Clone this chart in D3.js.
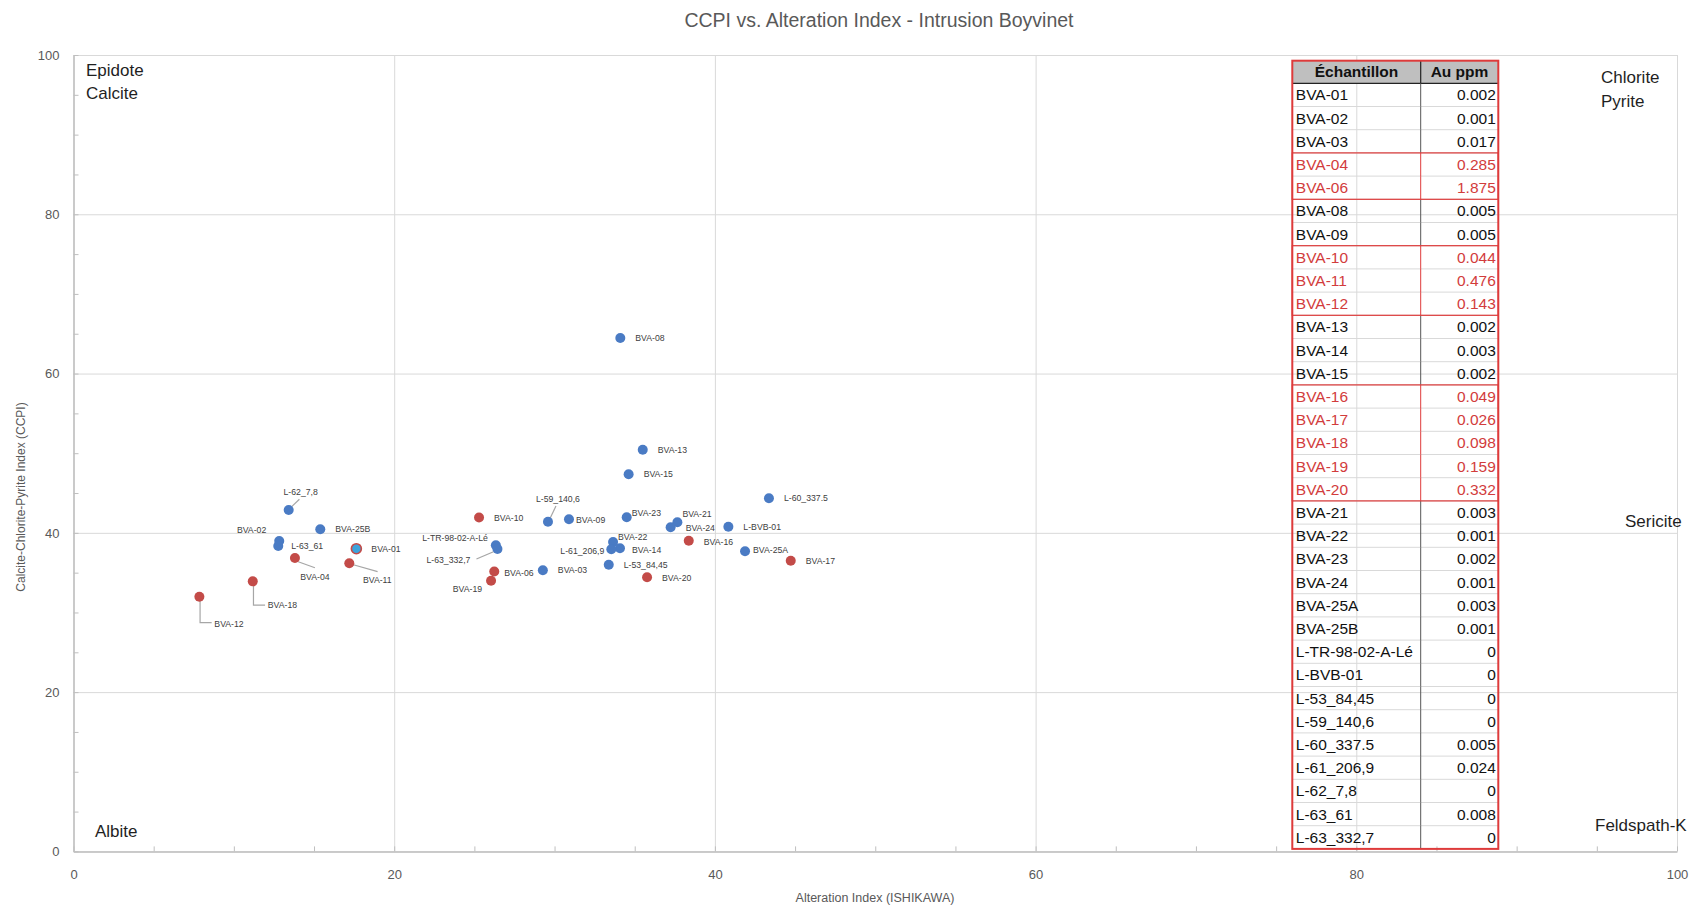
<!DOCTYPE html>
<html><head><meta charset="utf-8">
<script src="https://cdn.jsdelivr.net/npm/d3@7"></script>
<style>
body{margin:0;background:#fff;}
svg{display:block;font-family:'Liberation Sans',Arial,sans-serif;}
</style>
</head><body>
<svg id="chart" width="1694" height="907"></svg>
<script>
// ---------- DATA ----------
const sampleNames = ["BVA-01","BVA-02","BVA-03","BVA-04","BVA-06","BVA-08","BVA-09","BVA-10","BVA-11","BVA-12",
  "BVA-13","BVA-14","BVA-15","BVA-16","BVA-17","BVA-18","BVA-19","BVA-20","BVA-21","BVA-22","BVA-23","BVA-24",
  "BVA-25A","BVA-25B","L-TR-98-02-A-Lé","L-BVB-01","L-53_84,45","L-59_140,6","L-60_337.5","L-61_206,9",
  "L-62_7,8","L-63_61","L-63_332,7"];
const alterationIndex = [17.64,12.83,29.27,13.81,26.24,34.10,30.90,25.29,17.20,7.85,
  35.50,34.08,34.62,38.37,44.73,11.18,26.04,35.77,37.66,33.65,34.50,37.24,
  41.88,15.39,26.34,40.84,33.38,29.59,43.37,33.54,
  13.42,12.77,26.44];
const ccpiValues = [38.01,38.98,35.31,36.84,35.15,64.46,41.70,41.93,36.18,31.98,
  50.44,38.06,47.36,39.01,36.50,33.91,33.98,34.42,41.32,38.85,41.95,40.70,
  37.68,40.44,38.45,40.77,36.00,41.40,44.34,37.93,
  42.87,38.35,37.97];

const tableSamples = ["BVA-01","BVA-02","BVA-03","BVA-04","BVA-06","BVA-08","BVA-09","BVA-10","BVA-11","BVA-12",
  "BVA-13","BVA-14","BVA-15","BVA-16","BVA-17","BVA-18","BVA-19","BVA-20","BVA-21","BVA-22","BVA-23","BVA-24",
  "BVA-25A","BVA-25B","L-TR-98-02-A-Lé","L-BVB-01","L-53_84,45","L-59_140,6","L-60_337.5","L-61_206,9",
  "L-62_7,8","L-63_61","L-63_332,7"];
const tableAu = [0.002,0.001,0.017,0.285,1.875,0.005,0.005,0.044,0.476,0.143,
  0.002,0.003,0.002,0.049,0.026,0.098,0.159,0.332,0.003,0.001,0.002,0.001,
  0.003,0.001,0,0,0,0,0.005,0.024,
  0,0.008,0];
const tableHeaders = ["Échantillon","Au ppm"];
const auThreshold = 0.025;

const xTicks = [0,20,40,60,80,100];
const yTicks = [0,20,40,60,80,100];
const chartTitle = "CCPI vs. Alteration Index - Intrusion Boyvinet";
const xTitle = "Alteration Index (ISHIKAWA)";
const yTitle = "Calcite-Chlorite-Pyrite Index (CCPI)";

// ---------- LAYOUT / STYLE ----------
const plot = {left:73.5, right:1677, top:55, bottom:851.4};
const blue = "#4a7bc4", red = "#c34b48", tRed = "#d23c3c", bRed = "#de3b3b";
const labelLayout = {
  "BVA-09":{dx:7,dy:1}, "BVA-23":{dx:5,dy:-4}, "BVA-21":{dx:5,dy:-8}, "BVA-24":{dx:15,dy:1},
  "BVA-16":{dx:15,dy:1}, "BVA-22":{dx:5,dy:-5}, "L-61_206,9":{dx:-7,dy:1.5,anchor:"end"},
  "BVA-14":{dx:12,dy:2}, "BVA-25A":{dx:8,dy:-1}, "BVA-06":{dx:10,dy:1},
  "BVA-19":{dx:-9,dy:8,anchor:"end"}, "L-TR-98-02-A-Lé":{dx:-8,dy:-7,anchor:"end"},
  "L-63_332,7":{dx:-27,dy:11,anchor:"end",leader:[[-21,10],[-4,2.7]]},
  "L-59_140,6":{dx:10,dy:-23,anchor:"middle",leader:[[8,-15.7],[1.3,-1.7]]},
  "BVA-02":{dx:-13,dy:-11,anchor:"end"}, "L-63_61":{dx:13,dy:0},
  "L-62_7,8":{dx:12,dy:-18,anchor:"middle",leader:[[3,-3.3],[10.7,-10.7]]},
  "BVA-04":{dx:20,dy:19,anchor:"middle",leader:[[3.3,3.7],[20,9.7]]},
  "BVA-11":{dx:28,dy:17,anchor:"middle",leader:[[2.3,1],[28.3,8.3]]},
  "BVA-18":{dx:15,dy:24,leader:[[0.7,3.7],[0.7,23.7],[12.3,23.7]]},
  "BVA-12":{dx:15,dy:27,leader:[[0.7,3.3],[0.7,26],[12.3,26]]},
  "BVA-20":{dx:15,dy:1}
};
const specialMarker = {"BVA-01":{fill:"#3da3dc",stroke:red}};

const svg = d3.select("#chart");
const x = d3.scaleLinear().domain([0,100]).range([plot.left, plot.right]);
const y = d3.scaleLinear().domain([0,100]).range([plot.bottom, plot.top]);

// gridlines
svg.append("g").attr("transform",`translate(0,${plot.bottom})`)
  .call(d3.axisBottom(x).tickValues(xTicks).tickSize(-(plot.bottom-plot.top)).tickFormat(""))
  .call(g=>{g.select(".domain").remove(); g.selectAll("line").attr("stroke","#d9d9d9");});
svg.append("g").attr("transform",`translate(${plot.left},0)`)
  .call(d3.axisLeft(y).tickValues(yTicks).tickSize(-(plot.right-plot.left)).tickFormat(""))
  .call(g=>{g.select(".domain").remove(); g.selectAll("line").attr("stroke","#d9d9d9");});

// minor ticks (inside)
svg.append("g").attr("transform",`translate(0,${plot.bottom})`)
  .call(d3.axisBottom(x).tickValues(d3.range(0,101,5)).tickSize(-5).tickFormat(""))
  .call(g=>{g.select(".domain").remove(); g.selectAll("line").attr("stroke","#bfbfbf");});
svg.append("g").attr("transform",`translate(${plot.left},0)`)
  .call(d3.axisLeft(y).tickValues(d3.range(0,101,5)).tickSize(-5).tickFormat(""))
  .call(g=>{g.select(".domain").remove(); g.selectAll("line").attr("stroke","#bfbfbf");});

// axes
const xAxis = svg.append("g").attr("transform",`translate(0,${plot.bottom})`)
  .call(d3.axisBottom(x).tickValues(xTicks).tickSize(0).tickPadding(0).tickFormat(d3.format("d")));
xAxis.select(".domain").attr("stroke","#bfbfbf").attr("stroke-width",1.5);
xAxis.selectAll("text").attr("y",23).attr("dy","0.35em").attr("font-size",13).attr("fill","#595959");
const yAxis = svg.append("g").attr("transform",`translate(${plot.left},0)`)
  .call(d3.axisLeft(y).tickValues(yTicks).tickSize(0).tickPadding(14).tickFormat(d3.format("d")));
yAxis.select(".domain").attr("stroke","#bfbfbf").attr("stroke-width",1.5);
yAxis.selectAll("text").attr("font-size",13).attr("fill","#595959");

// titles
svg.append("text").attr("x",879).attr("y",20).attr("dy","0.35em").attr("text-anchor","middle")
  .attr("font-size",19.5).attr("fill","#595959").text(chartTitle);
svg.append("text").attr("x",875).attr("y",898).attr("dy","0.35em").attr("text-anchor","middle")
  .attr("font-size",12.5).attr("fill","#595959").text(xTitle);
svg.append("text").attr("transform","translate(21,497) rotate(-90)").attr("dy","0.35em")
  .attr("text-anchor","middle").attr("font-size",12).attr("fill","#595959").text(yTitle);

// quadrant labels
const quad = [
  {t:"Epidote",x:86,y:70},{t:"Calcite",x:86,y:93},
  {t:"Chlorite",x:1601,y:77},{t:"Pyrite",x:1601,y:101},
  {t:"Sericite",x:1625,y:521},{t:"Albite",x:95,y:831},{t:"Feldspath-K",x:1595,y:825}];
svg.append("g").selectAll("text").data(quad).join("text")
  .attr("x",d=>d.x).attr("y",d=>d.y).attr("dy","0.35em").attr("font-size",17).attr("fill","#1f1f1f").text(d=>d.t);

// table
const tb = {left:1292.3, mid:1420.7, right:1498.3, top:60.7, head:22.6, row:23.2};
const tg = svg.append("g");
const auOf = name => tableAu[tableSamples.indexOf(name)];
const isHigh = i => tableAu[i] >= auThreshold;
const rowTop = i => tb.top + tb.head + i*tb.row;
tg.append("rect").attr("x",tb.left).attr("y",tb.top).attr("width",tb.right-tb.left).attr("height",tb.head)
  .attr("fill","#bfbfbf");
tg.append("line").attr("x1",tb.mid).attr("x2",tb.mid).attr("y1",tb.top).attr("y2",tb.top+tb.head).attr("stroke","#222").attr("stroke-width",1.2);
tg.append("line").attr("x1",tb.left).attr("x2",tb.right).attr("y1",tb.top+tb.head).attr("y2",tb.top+tb.head).attr("stroke","#222").attr("stroke-width",1.2);
tg.selectAll("text.h").data(tableHeaders).join("text").attr("class","h")
  .attr("x",(d,i)=> i===0 ? (tb.left+tb.mid)/2 : (tb.mid+tb.right)/2)
  .attr("y",tb.top+tb.head/2).attr("dy","0.35em").attr("text-anchor","middle")
  .attr("font-size",15.5).attr("font-weight","bold").attr("fill","#111").text(d=>d);
tg.selectAll("line.rs").data(d3.range(1,tableSamples.length)).join("line").attr("class","rs")
  .attr("x1",tb.left).attr("x2",tb.right).attr("y1",rowTop).attr("y2",rowTop)
  .attr("stroke","#d9d9d9");
tg.selectAll("line.cd").data(d3.range(tableSamples.length)).join("line").attr("class","cd")
  .attr("x1",tb.mid).attr("x2",tb.mid).attr("y1",rowTop).attr("y2",i=>rowTop(i)+tb.row)
  .attr("stroke",i=>isHigh(i)?bRed:"#555").attr("stroke-width",1);
const groups = [];
tableAu.forEach((v,i)=>{ if(v>=auThreshold){ if(groups.length && groups[groups.length-1].end===i-1) groups[groups.length-1].end=i; else groups.push({start:i,end:i}); }});
tg.selectAll("rect.grp").data(groups).join("rect").attr("class","grp")
  .attr("x",tb.left).attr("y",g=>rowTop(g.start)).attr("width",tb.right-tb.left)
  .attr("height",g=>(g.end-g.start+1)*tb.row).attr("fill","none").attr("stroke",bRed).attr("stroke-width",1.2);
tg.selectAll("text.s").data(tableSamples).join("text").attr("class","s")
  .attr("x",tb.left+3.5).attr("y",(d,i)=>rowTop(i)+tb.row/2).attr("dy","0.35em")
  .attr("font-size",15.5).attr("fill",(d,i)=>isHigh(i)?tRed:"#111").text(d=>d);
tg.selectAll("text.v").data(tableAu).join("text").attr("class","v")
  .attr("x",tb.right-2.5).attr("y",(d,i)=>rowTop(i)+tb.row/2).attr("dy","0.35em").attr("text-anchor","end")
  .attr("font-size",15.5).attr("fill",(d,i)=>isHigh(i)?tRed:"#111").text(d=> d===0 ? "0" : d3.format(".3f")(d));
tg.append("rect").attr("x",tb.left).attr("y",tb.top).attr("width",tb.right-tb.left)
  .attr("height",tb.head+tableSamples.length*tb.row).attr("fill","none").attr("stroke",bRed).attr("stroke-width",2);

// points
const pts = sampleNames.map((n,i)=>({name:n, ai:alterationIndex[i], cc:ccpiValues[i], au:auOf(n)}));
const lg = svg.append("g");
pts.forEach(p=>{
  const L = labelLayout[p.name];
  if(L && L.leader){
    const px=x(p.ai), py=y(p.cc);
    lg.append("path").attr("d", d3.line()(L.leader.map(q=>[px+q[0],py+q[1]])))
      .attr("fill","none").attr("stroke","#a6a6a6").attr("stroke-width",1.2);
  }
});
svg.append("g").selectAll("circle").data(pts).join("circle")
  .attr("cx",d=>x(d.ai)).attr("cy",d=>y(d.cc)).attr("r",5)
  .attr("fill",d=> specialMarker[d.name] ? specialMarker[d.name].fill : (d.au>=auThreshold?red:blue))
  .attr("stroke",d=> specialMarker[d.name] ? specialMarker[d.name].stroke : "none")
  .attr("stroke-width",1.6);
svg.append("g").selectAll("text").data(pts).join("text")
  .attr("x",d=>x(d.ai)+((labelLayout[d.name]||{}).dx ?? 15))
  .attr("y",d=>y(d.cc)+((labelLayout[d.name]||{}).dy ?? 0))
  .attr("dy","0.35em").attr("text-anchor",d=>(labelLayout[d.name]||{}).anchor||"start")
  .attr("font-size",8.7).attr("fill","#404040").text(d=>d.name);
</script>
</body></html>
